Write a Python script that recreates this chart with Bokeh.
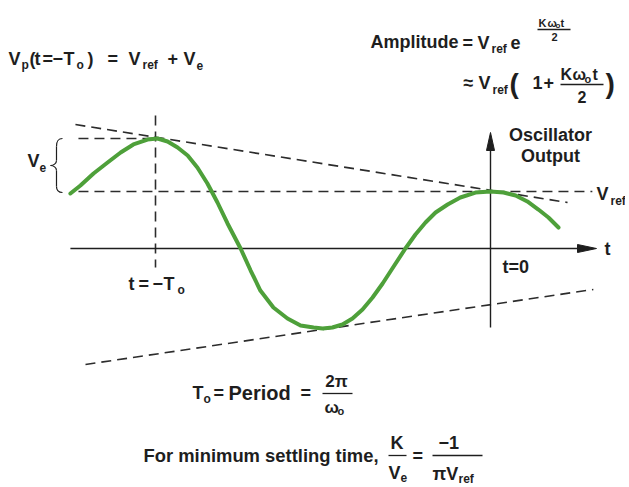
from bokeh.plotting import figure
from bokeh.models import Range1d
from bokeh.core.properties import value
from bokeh.embed import file_html
from bokeh.resources import INLINE

# ---------------- data (t in units of T0, v in units of Vref) ----------------
curve_t = [-1.254, -1.224, -1.185, -1.143, -1.104, -1.066, -1.024, -0.994, -0.964,
           -0.934, -0.904, -0.875, -0.845, -0.815, -0.785, -0.746, -0.716, -0.687,
           -0.648, -0.606, -0.567, -0.528, -0.501, -0.472, -0.442, -0.412, -0.382,
           -0.352, -0.322, -0.293, -0.254, -0.224, -0.194, -0.164, -0.128, -0.090,
           -0.045, 0.000, 0.039, 0.075, 0.110, 0.143, 0.173, 0.203]
curve_v = [0.965, 1.105, 1.316, 1.509, 1.684, 1.825, 1.912, 1.930, 1.877,
           1.772, 1.632, 1.421, 1.140, 0.807, 0.439, 0.000, -0.386, -0.737,
           -1.035, -1.228, -1.351, -1.386, -1.404, -1.386, -1.333, -1.228, -1.070,
           -0.860, -0.614, -0.351, 0.000, 0.246, 0.456, 0.632, 0.772, 0.895,
           0.982, 1.000, 0.982, 0.930, 0.825, 0.684, 0.544, 0.368]

upper_env_t = [-1.239, 0.230]
upper_env_v = [2.175, 0.807]
lower_env_t = [-1.209, 0.307]
lower_env_v = [-2.035, -0.719]
vref_t = [-1.230, 0.304]
vref_v = [1.0, 1.0]
vpeak_t = [-1.230, -1.0]
vpeak_v = [1.93, 1.93]
marker_t = [-1.0, -1.0]
marker_v = [2.333, -0.333]
taxis_t = [-1.254, 0.290]
taxis_v = [0.0, 0.0]
vaxis_t = [0.0, 0.0]
vaxis_v = [-1.386, 1.80]

# ---------------- helpers: reference pixel -> data ----------------
def dx(px):
    return (px - 490) / 335.0

def dy(py):
    return (248 - py) / 57.0

W, H = 625, 485
p = figure(width=W, height=H, output_backend="svg", toolbar_location=None,
           x_range=Range1d(dx(0), dx(W)), y_range=Range1d(dy(H), dy(0)),
           x_axis_location=None, y_axis_location=None, min_border=0)
p.grid.visible = False
p.outline_line_color = None
p.background_fill_color = "white"
p.border_fill_color = "white"

INK = "#1e1e1e"
DASH = "#2c2c2c"
GREEN = "#4ea03a"
FONT = value("Liberation Sans")

# dashed construction lines
for tt, vv in [(upper_env_t, upper_env_v), (lower_env_t, lower_env_v),
               (vref_t, vref_v), (vpeak_t, vpeak_v), (marker_t, marker_v)]:
    p.line(tt, vv, line_color=DASH, line_width=1.6, line_dash="10 6")

# axes
p.line(taxis_t, taxis_v, line_color=INK, line_width=1.4)
p.line(vaxis_t, vaxis_v, line_color=INK, line_width=1.4)
p.patch([dx(596), dx(577), dx(577)], [dy(248), dy(244), dy(252)], color=INK)
p.patch([dx(490), dx(486), dx(494)], [dy(132), dy(150), dy(150)], color=INK)

# waveform
p.line(curve_t, curve_v, line_color=GREEN, line_width=4, line_join="round", line_cap="round")

# brace for Ve
br = [((62, 138), (57, 138), (56, 141), (56, 146)),
      ((56, 146), (56, 151), (56, 156), (56, 160)),
      ((56, 160), (56, 163), (53, 165), (50, 165)),
      ((50, 165), (53, 165), (56, 167), (56, 170)),
      ((56, 170), (56, 175), (56, 180), (56, 186)),
      ((56, 186), (56, 189), (57, 192), (62, 192))]
p.bezier(x0=[dx(b[0][0]) for b in br], y0=[dy(b[0][1]) for b in br],
         cx0=[dx(b[1][0]) for b in br], cy0=[dy(b[1][1]) for b in br],
         cx1=[dx(b[2][0]) for b in br], cy1=[dy(b[2][1]) for b in br],
         x1=[dx(b[3][0]) for b in br], y1=[dy(b[3][1]) for b in br],
         line_color=INK, line_width=1.2)

# fraction bars
bars = [(537, 570, 29), (560, 603, 84), (322, 352, 393), (388, 406, 455), (432, 482, 455)]
p.segment(x0=[dx(b[0]) for b in bars], x1=[dx(b[1]) for b in bars],
          y0=[dy(b[2]) for b in bars], y1=[dy(b[2]) for b in bars],
          line_color=INK, line_width=1.3)

def add_text(items, size, align="left"):
    p.text(x=[dx(i[0]) for i in items], y=[dy(i[1]) for i in items],
           text=[i[2] for i in items], text_font=FONT,
           text_font_size=value(f"{size}px"), text_font_style="bold",
           text_align=align, text_baseline="middle", text_color=INK)

big = [
    # Vp(t=-To) = Vref + Ve
    (8, 58, "V"), (29, 58, "("), (34, 58, "t"), (42, 58, "="), (52, 58, "\u2212"),
    (63, 58, "T"), (87, 58, ")"), (107, 58, "="), (128, 58, "V"), (167, 58, "+"),
    (183, 58, "V"),
    # Amplitude line
    (370, 41, "Amplitude"), (462, 42, "="), (477, 42, "V"), (510, 42, "e"),
    (463, 82, "\u2248"), (478, 82, "V"), (532, 82, "1"), (543, 82, "+"),
    # bottom formulas
    (192, 392, "T"), (213, 392, "="), (300, 392, "="),
    (412, 455, "="),
    (390, 442, "K"), (388, 472, "V"), (438, 442, "\u22121"), (432, 473, "\u03c0V"),
    # diagram labels
    (27, 160, "V"), (128, 283, "t"), (138, 283, "="), (152, 283, "\u2212"), (163, 283, "T"),
    (502, 266, "t=0"), (604, 248, "t"),
    (596, 193, "V"),
]
add_text(big, 18)
add_text([(228, 392, "Period")], 20)
add_text([(143, 455, "For minimum settling time,")], 18.4)

small = [
    (21, 64, "p"), (76, 64, "o"), (142, 64, "ref"), (196, 65, "e"),
    (491, 48, "ref"), (492, 89, "ref"),
    (203, 398, "o"), (400, 477, "e"), (458, 478, "ref"),
    (39, 167, "e"), (177, 289, "o"), (610, 200, "ref"),
]
add_text(small, 12)

frac = [(560, 74, "K"), (572, 74, "\u03c9"), (592, 74, "t"), (577, 96, "2")]
add_text(frac, 16)
add_text([(324, 407, "\u03c9")], 17)
add_text([(336, 381, "2\u03c0")], 17, align="center")
add_text([(584, 78, "o"), (337, 410, "o")], 11)

expo = [(538, 22, "K"), (547, 22, "\u03c9"), (560, 22, "t"), (551, 36, "2")]
add_text(expo, 11)
add_text([(555, 25, "o")], 8)

add_text([(509, 83, "("), (605, 83, ")")], 28)

add_text([(550, 134, "Oscillator"), (550, 155, "Output")], 18, align="center")

open("out.html", "w").write(file_html(p, INLINE))
